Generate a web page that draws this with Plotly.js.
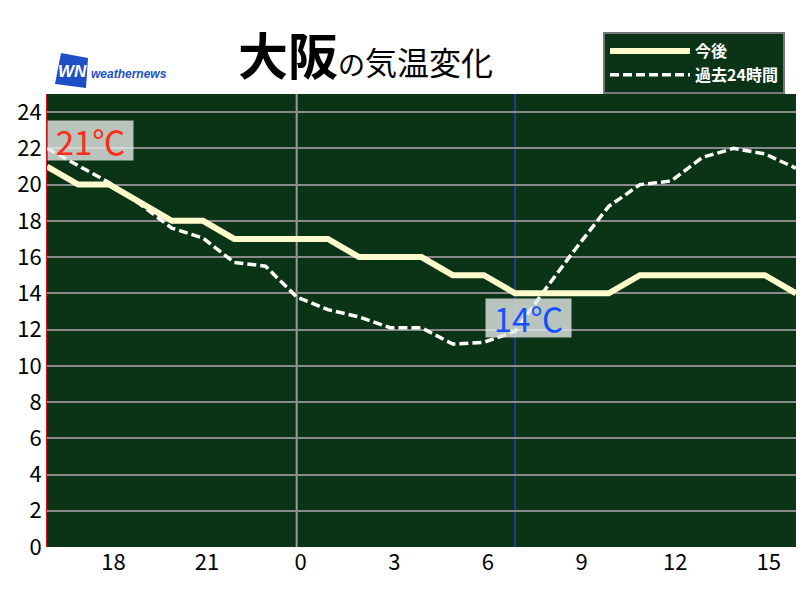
<!DOCTYPE html>
<html>
<head>
<meta charset="utf-8">
<script src="https://cdn.plot.ly/plotly-3.0.1.min.js"></script>
<style>html,body{margin:0;padding:0;background:#fff;}</style>
</head>
<body>
<div id="chart" style="width:800px;height:600px;"></div>
<script>
// ---- data ----
const hours = [-8,-7,-6,-5,-4,-3,-2,-1,0,1,2,3,4,5,6,7,8,9,10,11,12,13,14,15,16];
const forecastTemps = [21,20,20,19,18,18,17,17,17,17,16,16,16,15,15,14,14,14,14,15,15,15,15,15,14];
const past24Temps = [22.0,21.05,20.1,18.9,17.6,17.05,15.7,15.5,13.8,13.1,12.7,12.1,12.1,11.2,11.3,11.9,14.3,16.6,18.8,20.0,20.2,21.5,22.0,21.7,20.9];
const tickHours = [-6,-3,0,3,6,9,12,15];
const tickLabels = ['18','21','0','3','6','9','12','15'];
const yTicks = [0,2,4,6,8,10,12,14,16,18,20,22,24];
const seriesNames = ['今後','過去24時間'];
const nowHour = 7;
const midnightHour = 0;
const cityName = '大阪';

// ---- helpers for paper positions (decorations only) ----
const L = 47, R = 796, T = 94, B = 547;
const px = x => (x - L) / (R - L);
const py = y => (B - y) / (B - T);

const FONT = 'Noto Sans CJK JP, Noto Sans, sans-serif';
const nowIdx = hours.indexOf(nowHour);

const traces = [
  {
    x: hours, y: past24Temps, name: seriesNames[1], mode: 'lines',
    line: {color: '#ffffff', width: 3.5, dash: '9px,4px'},
    hoverinfo: 'skip'
  },
  {
    x: hours, y: forecastTemps, name: seriesNames[0], mode: 'lines',
    line: {color: '#fffbcc', width: 6},
    hoverinfo: 'skip'
  }
];

const layout = {
  width: 800, height: 600,
  margin: {l: L, r: 800 - R, t: T, b: 600 - B, pad: 0},
  paper_bgcolor: '#ffffff',
  plot_bgcolor: '#0b3315',
  font: {family: FONT, color: '#000'},
  showlegend: true,
  xaxis: {
    range: [hours[0], hours[hours.length - 1]],
    tickmode: 'array', tickvals: tickHours, ticktext: tickLabels,
    showgrid: false, zeroline: false, ticks: '', showline: false,
    tickfont: {size: 22, color: '#000', family: FONT},
    ticklabelshift: 4,
    fixedrange: true
  },
  yaxis: {
    range: [0, 25],
    tickmode: 'array', tickvals: yTicks,
    showgrid: true, gridcolor: '#8a8a8a', gridwidth: 2,
    zeroline: false, ticks: '',
    showline: true, linecolor: '#dd1111', linewidth: 1,
    tickfont: {size: 22, color: '#000', family: FONT},
    fixedrange: true
  },
  legend: {
    x: px(603), y: py(32), xanchor: 'left', yanchor: 'top',
    bgcolor: '#0b3315', bordercolor: '#777777', borderwidth: 2,
    font: {color: '#ffffff', size: 16, family: FONT, weight: 'bold'},
    traceorder: 'reversed', itemwidth: 80, tracegroupgap: 0
  },
  shapes: [
    {type: 'line', xref: 'x', yref: 'paper', x0: midnightHour, x1: midnightHour, y0: 0, y1: 1,
     line: {color: '#9a9a9a', width: 2}, layer: 'below'},
    {type: 'line', xref: 'x', yref: 'paper', x0: nowHour, x1: nowHour, y0: 0, y1: 1,
     line: {color: '#1b3fd6', width: 1.5}, layer: 'below'},
    // logo mark
    {type: 'path', xref: 'paper', yref: 'paper',
     path: `M ${px(61)} ${py(53)} L ${px(88)} ${py(58)} L ${px(86)} ${py(88)} L ${px(55)} ${py(84)} Z`,
     fillcolor: '#1f4fc6', line: {width: 0}}
  ],
  annotations: [
    {x: hours[0], y: forecastTemps[0], xref: 'x', yref: 'y', xanchor: 'left', yanchor: 'bottom',
     yshift: 5, text: forecastTemps[0] + '℃', showarrow: false,
     font: {size: 33, color: '#ff2a18', family: FONT},
     width: 81, height: 35, align: 'center', valign: 'middle',
     bgcolor: 'rgba(228,232,230,0.8)', borderpad: 2},
    {x: nowHour, y: forecastTemps[nowIdx], xref: 'x', yref: 'y', xanchor: 'center', yanchor: 'top',
     xshift: 13, yshift: -5, text: forecastTemps[nowIdx] + '℃', showarrow: false,
     font: {size: 33, color: '#1450ff', family: FONT},
     width: 81, height: 34, align: 'center', valign: 'middle',
     bgcolor: 'rgba(228,232,230,0.8)', borderpad: 2},
    {x: px(365), y: py(91), xref: 'paper', yref: 'paper', xanchor: 'center', yanchor: 'bottom',
     showarrow: false,
     text: '<b><span style="font-size:50px">' + cityName + '</span></b><span style="font-size:27px">の</span><span style="font-size:32px">気温変化</span>',
     font: {family: FONT, color: '#000', size: 32}},
    {x: px(72), y: py(72), xref: 'paper', yref: 'paper', xanchor: 'center', yanchor: 'middle',
     showarrow: false, text: '<b><i>WN</i></b>', font: {family: 'Liberation Sans, sans-serif', size: 17, color: '#ffffff'}},
    {x: px(89), y: py(74), xref: 'paper', yref: 'paper', xanchor: 'left', yanchor: 'middle',
     showarrow: false, text: '<b><i>weathernews</i></b>', font: {family: 'Liberation Sans, sans-serif', size: 12, color: '#1f4fc6'}}
  ]
};

Plotly.newPlot('chart', traces, layout, {staticPlot: true, displayModeBar: false});
</script>
</body>
</html>
